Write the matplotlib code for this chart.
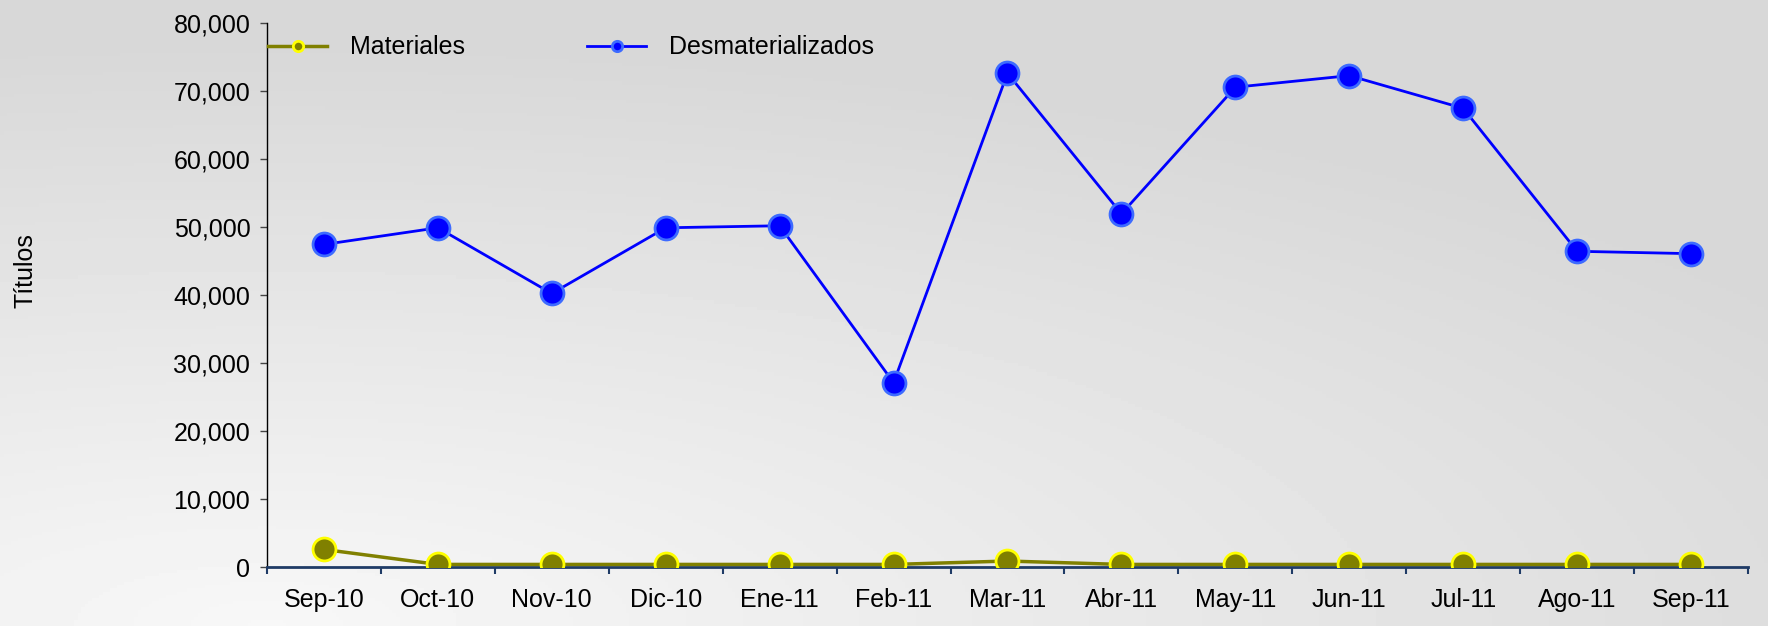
import matplotlib
matplotlib.use('Agg')
import matplotlib.pyplot as plt
import numpy as np
from matplotlib.ticker import FuncFormatter, FixedLocator

plt.rcParams['font.family'] = ['Liberation Sans', 'DejaVu Sans']
plt.rcParams['font.size'] = 18

# datos
meses = ['Sep-10', 'Oct-10', 'Nov-10', 'Dic-10', 'Ene-11', 'Feb-11', 'Mar-11',
         'Abr-11', 'May-11', 'Jun-11', 'Jul-11', 'Ago-11', 'Sep-11']
materiales = [2600, 400, 400, 400, 400, 400, 900, 400, 400, 400, 400, 400, 400]
desmaterializados = [47400, 49850, 40200, 49850, 50150, 27100, 72550,
                     51900, 70500, 72200, 67400, 46400, 46050]

fig = plt.figure(figsize=(17.68, 6.26), dpi=100)
fig.patch.set_facecolor('#d8d8d8')

# fondo gris con degradado suave
bg = fig.add_axes([0, 0, 1, 1], zorder=-1)
yy, xx = np.mgrid[0:1:200j, 0:1:500j]
d = np.sqrt(((xx - 0.15) / 1.0) ** 2 + ((yy - 0.0) / 0.9) ** 2)
g = np.clip(0.97 - 0.12 * d, 0.845, 0.97)
bg.imshow(g, cmap='gray', vmin=0, vmax=1, aspect='auto', origin='lower',
          extent=[0, 1, 0, 1])
bg.axis('off')

ax = fig.add_axes([0.151, 0.094, 0.8377, 0.870])
ax.patch.set_alpha(0)

x = np.arange(len(meses))
ax.plot(x, materiales, color='#808000', linewidth=2.5, marker='o', markersize=16.5,
        markerfacecolor='#808000', markeredgecolor='#ffff00', markeredgewidth=2,
        label='Materiales', zorder=3)
ax.plot(x, desmaterializados, color='#0000ff', linewidth=2, marker='o', markersize=16.5,
        markerfacecolor='#0000ff', markeredgecolor='#3d6bff', markeredgewidth=2,
        label='Desmaterializados', zorder=3)

ax.set_xlim(-0.5, len(meses) - 0.5)
ax.set_ylim(0, 80000)
ax.set_yticks(range(0, 80001, 10000))
ax.yaxis.set_major_formatter(FuncFormatter(lambda v, p: f'{int(v):,}'))

ax.set_xticks(x)
ax.set_xticklabels(meses)
ax.tick_params(axis='x', which='major', length=0, pad=15)
ax.xaxis.set_minor_locator(FixedLocator(np.arange(-0.5, len(meses), 1.0)))
ax.tick_params(axis='x', which='minor', length=5, width=1.5, color='#1f3b66', direction='out')
ax.tick_params(axis='y', length=5, width=1, color='#444444', pad=7)

for s in ['top', 'right']:
    ax.spines[s].set_visible(False)
ax.spines['bottom'].set_color('#1f3b66')
ax.spines['bottom'].set_linewidth(2)
ax.spines['left'].set_color('black')
ax.spines['left'].set_linewidth(1)

ax.set_ylabel('Títulos', fontsize=18)
ax.yaxis.set_label_coords(-0.155, 0.545)

ax.legend(loc='upper left', bbox_to_anchor=(-0.006, 0.995), ncol=2, frameon=False,
          markerscale=0.45, handlelength=2.36, handletextpad=0.9, columnspacing=4.9,
          borderaxespad=0.0, fontsize=18)

fig.savefig('out.png', dpi=100, facecolor=fig.get_facecolor())
